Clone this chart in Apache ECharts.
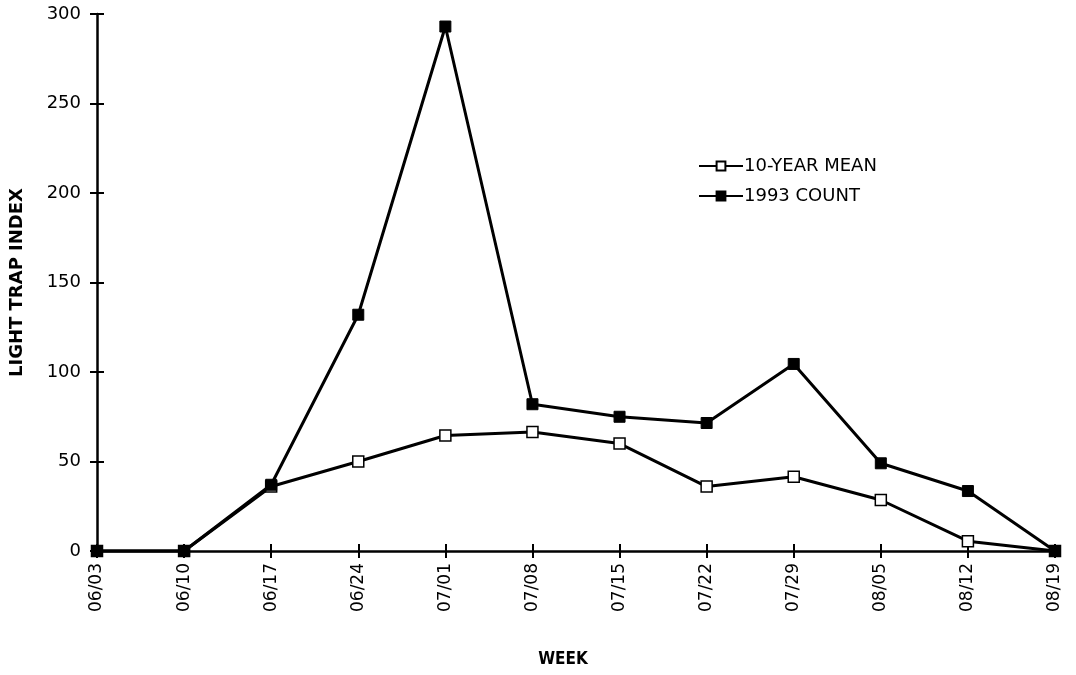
<!DOCTYPE html>
<html><head><meta charset="utf-8">
<script src="https://cdn.jsdelivr.net/npm/echarts@6/dist/echarts.min.js"></script>
<style>html,body{margin:0;padding:0;background:#fff}#c{width:1076px;height:675px}</style>
</head><body><div id="c"></div>
<script>
const weeks = ['06/03','06/10','06/17','06/24','07/01','07/08','07/15','07/22','07/29','08/05','08/12','08/19'];
const meanValues = [0, 0, 36, 50, 64.5, 66.5, 60, 36, 41.5, 28.5, 5.5, 0];
const count1993 = [0, 0, 37, 132, 293, 82, 75, 71.5, 104.5, 49, 33.5, 0];
const yTicks = [0, 50, 100, 150, 200, 250, 300];

const font = 'DejaVu Sans, Liberation Sans, Arial, sans-serif';
const chart = echarts.init(document.getElementById('c'));
chart.setOption({
  backgroundColor: '#fff',
  animation: false,
  grid: {left: 97, right: 21, top: 14, bottom: 124, containLabel: false, outerBoundsMode: 'none'},
  legend: {
    orient: 'vertical', left: 693, top: 152, itemWidth: 44, itemHeight: 11, itemGap: 12,
    textStyle: {fontFamily: font, fontSize: 18, color: '#000', padding: [0,0,0,-4]},
    data: ['10-YEAR MEAN', '1993 COUNT']
  },
  xAxis: [{
    type: 'category', data: weeks, boundaryGap: false,
    name: 'WEEK', nameLocation: 'middle', nameGap: 100,
    nameTextStyle: {fontFamily: 'DejaVu Sans Condensed, Liberation Sans, Arial, sans-serif', fontSize: 17, fontWeight: 'bold', color: '#000', padding: [0, 26, 0, 0]},
    axisLine: {lineStyle: {color: '#000', width: 2.5}},
    axisTick: {show: true, length: 7, lineStyle: {color: '#000', width: 2}},
    axisLabel: {rotate: 90, margin: 12, fontFamily: font, fontSize: 17, color: '#000'},
    splitLine: {show: false}
  }, {
    type: 'category', data: weeks, boundaryGap: false, position: 'bottom',
    axisLine: {show: false},
    axisTick: {show: true, inside: true, length: 7, lineStyle: {color: '#000', width: 2}},
    axisLabel: {show: false}
  }],
  yAxis: [{
    type: 'value', min: yTicks[0], max: yTicks[yTicks.length-1], interval: 50,
    name: 'LIGHT TRAP INDEX', nameLocation: 'middle', nameGap: 71, nameRotate: 90,
    nameTextStyle: {fontFamily: font, fontSize: 18, fontWeight: 'bold', color: '#000'},
    axisLine: {show: true, lineStyle: {color: '#000', width: 2.5}},
    axisTick: {show: true, length: 7, lineStyle: {color: '#000', width: 2}},
    axisLabel: {margin: 16, fontFamily: font, fontSize: 18, color: '#000'},
    splitLine: {show: false}
  }, {
    type: 'value', min: yTicks[0], max: yTicks[yTicks.length-1], interval: 50, position: 'left',
    axisLine: {show: false},
    axisTick: {show: true, inside: true, length: 7, lineStyle: {color: '#000', width: 2}},
    axisLabel: {show: false}, splitLine: {show: false}
  }],
  series: [{
    name: '10-YEAR MEAN', type: 'line', data: meanValues,
    symbol: 'rect', symbolSize: 11, showAllSymbol: true,
    lineStyle: {color: '#000', width: 3},
    itemStyle: {color: '#fff', borderColor: '#000', borderWidth: 1.5},
    z: 3
  }, {
    name: '1993 COUNT', type: 'line', data: count1993,
    symbol: 'rect', symbolSize: 11, showAllSymbol: true,
    lineStyle: {color: '#000', width: 3},
    itemStyle: {color: '#000', borderColor: '#000', borderWidth: 1},
    z: 4
  }]
});
</script></body></html>
